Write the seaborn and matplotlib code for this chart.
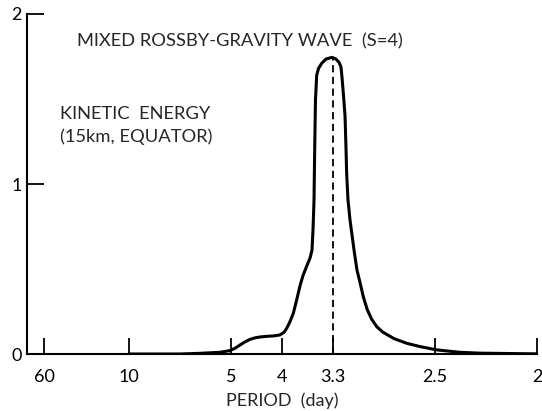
import matplotlib
matplotlib.use("Agg")
import matplotlib.pyplot as plt
import seaborn as sns
import pandas as pd

# frequency (1/day) and kinetic energy
frequency = [0.10, 0.150, 0.1696, 0.1892, 0.199, 0.2040, 0.2088, 0.2140, 0.2186, 0.2235,
             0.2284, 0.2350, 0.2412, 0.248, 0.2520,
             0.2546, 0.2578, 0.2611, 0.2644, 0.2676, 0.2705, 0.2735, 0.2775, 0.2794, 0.2804,
             0.2814, 0.2819, 0.2824, 0.2828, 0.284, 0.2858, 0.2889, 0.2931, 0.299,
             0.3029, 0.3059, 0.3078, 0.3088, 0.3103, 0.3118, 0.3127, 0.3134, 0.3147,
             0.3167, 0.3206, 0.3235, 0.3265, 0.3297, 0.3335, 0.3379, 0.343, 0.349,
             0.360, 0.3723, 0.385, 0.3951, 0.402, 0.4245, 0.4441, 0.4833, 0.50]
energy = [0.0, 0.0, 0.004, 0.010, 0.020, 0.034, 0.053, 0.072, 0.086, 0.095,
          0.100, 0.104, 0.106, 0.112, 0.128,
          0.151, 0.190, 0.240, 0.318, 0.400, 0.460, 0.506, 0.565, 0.610, 0.730,
          0.906, 1.140, 1.335, 1.490, 1.640, 1.680, 1.710, 1.735, 1.745,
          1.735, 1.715, 1.690, 1.630, 1.520, 1.400, 1.220, 1.060, 0.906,
          0.788, 0.612, 0.494, 0.420, 0.337, 0.262, 0.205, 0.160, 0.128,
          0.090, 0.063, 0.044, 0.032, 0.024, 0.010, 0.005, 0.002, 0.001]

peak_frequency = 0.3
peak_energy = 1.745

period_ticks = [60, 10, 5, 4, 10 / 3, 2.5, 2]
period_labels = ["60", "10", "5", "4", "3.3", "2.5", "2"]
y_ticks = [0, 1, 2]
y_labels = ["0", "1", "2"]

title_text = "MIXED ROSSBY-GRAVITY WAVE  (S=4)"
label_text_1 = "KINETIC  ENERGY"
label_text_2 = "(15km, EQUATOR)"
x_label = "PERIOD  (day)"

sns.set_style("ticks")
plt.rcParams["font.family"] = ["Lato", "DejaVu Sans"]

df = pd.DataFrame({"frequency": frequency, "energy": energy})

fig = plt.figure(figsize=(5.42, 4.11), dpi=100)
ax = fig.add_axes([27 / 542, 57 / 411, 510 / 542, 340 / 411])

sns.lineplot(data=df, x="frequency", y="energy", sort=False, color="black",
             linewidth=2.2, ax=ax)
ax.plot([peak_frequency, peak_frequency], [0, peak_energy], color="black",
        linewidth=1.3, linestyle=(0, (4, 2.5)))

ax.set_xlim(0, 0.5)
ax.set_ylim(0, 2)
ax.set_xticks([1 / p for p in period_ticks])
ax.set_xticklabels(period_labels, fontsize=13)
ax.set_yticks(y_ticks)
ax.set_yticklabels(y_labels, fontsize=13)
ax.tick_params(axis="x", direction="in", length=11.5, width=1.3, pad=11, colors="black")
ax.tick_params(axis="y", direction="in", length=12.5, width=1.3, pad=4, colors="black")
for side in ["top", "right"]:
    ax.spines[side].set_visible(False)
for side in ["left", "bottom"]:
    ax.spines[side].set_linewidth(1.5)
    ax.spines[side].set_color("black")

ax.set_xlabel(x_label, fontsize=13, labelpad=5)
ax.set_ylabel("")

ax.text(0.049, 1.84, title_text, fontsize=13.2, va="center", ha="left")
ax.text(0.032, 1.41, label_text_1, fontsize=13.2, va="center", ha="left")
ax.text(0.032, 1.28, label_text_2, fontsize=13.2, va="center", ha="left")

fig.savefig("out.png", dpi=100)
